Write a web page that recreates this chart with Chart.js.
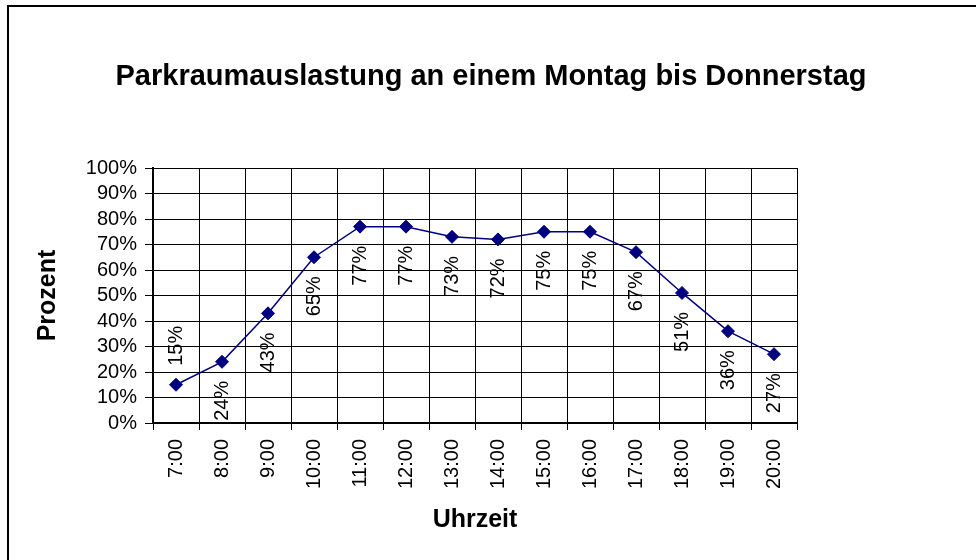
<!DOCTYPE html>
<html>
<head>
<meta charset="utf-8">
<script src="https://cdn.jsdelivr.net/npm/chart.js@4.4.1/dist/chart.umd.min.js"></script>
<style>
  body { margin: 0; background: #fff; }
  canvas { display: block; }
</style>
</head>
<body>
<canvas id="chart" width="976" height="560"></canvas>
<script>
// Werte
const hours = ['7:00', '8:00', '9:00', '10:00', '11:00', '12:00', '13:00',
               '14:00', '15:00', '16:00', '17:00', '18:00', '19:00', '20:00'];
const occupancy = [15, 24, 43, 65, 77, 77, 73, 72, 75, 75, 67, 51, 36, 27];
const labelsAbove = [0]; // nur das erste Label steht über dem Punkt

const FONT = '"Liberation Sans", Arial, sans-serif';
Chart.defaults.font.family = FONT;
Chart.defaults.color = '#000';

// Rahmen um das ganze Diagramm
const frame = {
    id: 'frame',
    beforeDraw(chart) {
        const ctx = chart.ctx;
        ctx.save();
        ctx.fillStyle = '#fff';
        ctx.fillRect(0, 0, chart.width, chart.height);
        ctx.strokeStyle = '#000';
        ctx.lineWidth = 2;
        ctx.strokeRect(8, 6, chart.width, chart.height);
        ctx.restore();
    }
};

// senkrechte Prozent-Beschriftung an den Punkten
const valueLabels = {
    id: 'valueLabels',
    afterDatasetsDraw(chart) {
        const ctx = chart.ctx;
        const meta = chart.getDatasetMeta(0);
        ctx.save();
        ctx.font = '20px ' + FONT;
        ctx.fillStyle = '#000';
        ctx.textBaseline = 'middle';
        meta.data.forEach((pt, i) => {
            const above = labelsAbove.includes(i);
            ctx.save();
            ctx.translate(pt.x, pt.y + (above ? -19 : 19));
            ctx.rotate(-Math.PI / 2);
            ctx.textAlign = above ? 'left' : 'right';
            ctx.fillText(Math.round(occupancy[i]) + '%', 0, 0);
            ctx.restore();
        });
        ctx.restore();
    }
};

const ctx = document.getElementById('chart').getContext('2d');
new Chart(ctx, {
    type: 'line',
    data: {
        labels: hours,
        datasets: [{
            label: 'Auslastung',
            data: occupancy,
            borderColor: '#000080',
            backgroundColor: '#000080',
            borderWidth: 1.5,
            pointStyle: 'rectRot',
            pointRadius: 6.5,
            pointBorderWidth: 1,
            tension: 0
        }]
    },
    options: {
        responsive: false,
        animation: false,
        layout: { padding: { left: 6, right: 0, top: 0, bottom: 25 } },
        plugins: {
            legend: { display: false },
            tooltip: { enabled: false },
            title: {
                display: true,
                text: 'Parkraumauslastung an einem Montag bis Donnerstag',
                color: '#000',
                font: { size: 29, weight: 'bold' },
                padding: { top: 60, bottom: 73.2 }
            }
        },
        scales: {
            x: {
                offset: true,
                grid: { offset: true, color: '#000', lineWidth: 1, tickLength: 7, tickColor: '#000' },
                border: { color: '#000', width: 2 },
                ticks: { color: '#000', font: { size: 20 }, minRotation: 90, maxRotation: 90, padding: 9, autoSkip: false },
                title: { display: true, text: 'Uhrzeit', color: '#000', font: { size: 25, weight: 'bold' }, padding: 0 },
                afterFit(scale) { scale.height = 560 - 423 - 25; }
            },
            y: {
                min: 0,
                max: 100,
                grid: { color: '#000', lineWidth: 1, tickLength: 8, tickColor: '#000' },
                border: { color: '#000', width: 2 },
                ticks: { stepSize: 10, autoSkip: false, color: '#000', font: { size: 20 }, padding: 8, callback: v => v + '%' },
                title: { display: true, text: 'Prozent', color: '#000', font: { size: 25, weight: 'bold' }, padding: { top: 27, bottom: 0 } },
                afterFit(scale) { scale.width = 153 - 6; }
            },
            // leerer Platz rechts neben der Zeichenfläche
            spacer: {
                type: 'linear',
                position: 'right',
                ticks: { display: false },
                grid: { display: false },
                border: { display: false },
                afterFit(scale) { scale.width = 976 - 797; }
            }
        }
    },
    plugins: [frame, valueLabels]
});
</script>
</body>
</html>
